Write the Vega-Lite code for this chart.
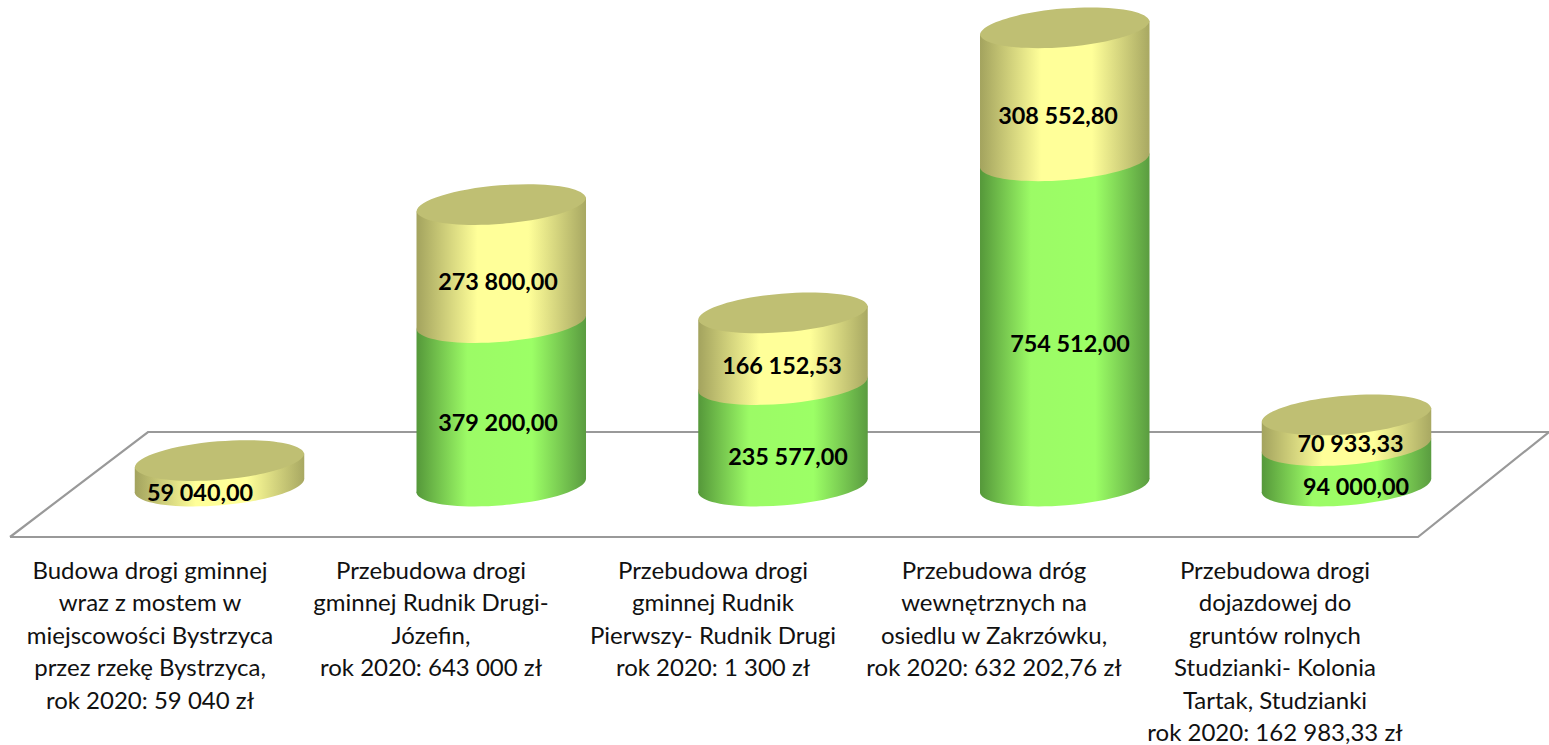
{"$schema":"https://vega.github.io/schema/vega-lite/v6.json","width":1549,"height":745,"padding":0,"autosize":{"type":"none"},"background":"white","config":{"view":{"stroke":null}},
"datasets":{
"rows":[
{"nr":1,"series":"seria 2","value":59040},
{"nr":2,"series":"seria 1","value":379200},{"nr":2,"series":"seria 2","value":273800},
{"nr":3,"series":"seria 1","value":235577},{"nr":3,"series":"seria 2","value":166152.53},
{"nr":4,"series":"seria 1","value":754512},{"nr":4,"series":"seria 2","value":308552.8},
{"nr":5,"series":"seria 1","value":94000},{"nr":5,"series":"seria 2","value":70933.33}],
"valueLabels":[
{"lx":0.9308,"ly":-16241,"label":"59 040,00"},
{"lx":1.9885,"ly":146172,"label":"379 200,00"},
{"lx":1.9885,"ly":473318,"label":"273 800,00"},
{"lx":3.0178,"ly":67285,"label":"235 577,00"},
{"lx":2.9965,"ly":278422,"label":"166 152,53"},
{"lx":4.0186,"ly":329466,"label":"754 512,00"},
{"lx":3.976,"ly":858469,"label":"308 552,80"},
{"lx":5.0337,"ly":-2320,"label":"94 000,00"},
{"lx":5.0142,"ly":97448,"label":"70 933,33"}],
"names":[
{"lx":0.7533,"name":"Budowa drogi gminnej\nwraz z mostem w\nmiejscowości Bystrzyca\nprzez rzekę Bystrzyca,\nrok 2020: 59 040 zł"},
{"lx":1.7507,"name":"Przebudowa drogi\ngminnej Rudnik Drugi-\nJózefin,\nrok 2020: 643 000 zł"},
{"lx":2.7516,"name":"Przebudowa drogi\ngminnej Rudnik\nPierwszy- Rudnik Drugi\nrok 2020: 1 300 zł"},
{"lx":3.7489,"name":"Przebudowa dróg\nwewnętrznych na\nosiedlu w Zakrzówku,\nrok 2020: 632 202,76 zł"},
{"lx":4.7462,"name":"Przebudowa drogi\ndojazdowej do\ngruntów rolnych\nStudzianki- Kolonia\nTartak, Studzianki\nrok 2020: 162 983,33 zł"}],
"floor":[
{"i":1,"fx":0.2564,"fy":-118329},
{"i":2,"fx":0.7462,"fy":125290},
{"i":3,"fx":5.7187,"fy":125290},
{"i":4,"fx":5.2537,"fy":-118329},
{"i":5,"fx":0.2564,"fy":-118329}]
},
"data":{"name":"rows"},
"layer":[
{"data":{"name":"floor"},"mark":{"type":"line","stroke":"#999999","strokeWidth":2.2,"interpolate":"linear"},
"encoding":{"x":{"field":"fx","type":"quantitative","axis":null,"scale":{"domain":[0.2209,5.7187],"nice":false,"zero":false}},"y":{"field":"fy","type":"quantitative","axis":null,"scale":{"domain":[-600928,1127610],"nice":false,"zero":false}},"order":{"field":"i"}}},
{"transform":[{"stack":"value","groupby":["nr"],"sort":[{"field":"series"}],"as":["start","end"]},{"filter":"datum.series==='seria 1'"}],
"mark":{"type":"point","filled":true,"opacity":1,"size":28730,"shape":"M-1 0.082A1.004 0.236 -4.7 0 1 1 -0.082A1.004 0.236 -4.7 0 1 -1 0.082Z","fill":{"x1":0,"x2":1,"y1":0,"y2":0,"gradient":"linear","stops":[{"offset":0,"color":"#55983a"},{"offset":0.3,"color":"#9cfb66"},{"offset":0.68,"color":"#9cff66"},{"offset":1,"color":"#5a9c40"}]}},
"encoding":{"x":{"field":"nr","type":"quantitative"},"y":{"field":"start","type":"quantitative"}}},
{"transform":[{"stack":"value","groupby":["nr"],"sort":[{"field":"series"}],"as":["start","end"]},{"filter":"datum.series==='seria 1'"},{"calculate":"[-1,1]","as":"edge"},{"flatten":["edge"]},{"calculate":"datum.nr+datum.edge*0.3008","as":"ex"},{"calculate":"datum.start+datum.edge*16000","as":"e0"},{"calculate":"datum.end+datum.edge*16000","as":"e1"}],
"mark":{"type":"area","opacity":1,"fill":{"x1":0,"x2":1,"y1":0,"y2":0,"gradient":"linear","stops":[{"offset":0,"color":"#55983a"},{"offset":0.3,"color":"#9cfb66"},{"offset":0.68,"color":"#9cff66"},{"offset":1,"color":"#5a9c40"}]}},
"encoding":{"x":{"field":"ex","type":"quantitative"},"y":{"field":"e0","type":"quantitative"},"y2":{"field":"e1"},"detail":{"field":"nr"}}},
{"transform":[{"stack":"value","groupby":["nr"],"sort":[{"field":"series"}],"as":["start","end"]},{"filter":"datum.series==='seria 2'"}],
"mark":{"type":"point","filled":true,"opacity":1,"size":28730,"shape":"M-1 0.082A1.004 0.236 -4.7 0 1 1 -0.082A1.004 0.236 -4.7 0 1 -1 0.082Z","fill":{"x1":0,"x2":1,"y1":0,"y2":0,"gradient":"linear","stops":[{"offset":0,"color":"#a3a35e"},{"offset":0.36,"color":"#ffff99"},{"offset":0.66,"color":"#ffff99"},{"offset":1,"color":"#a8a862"}]}},
"encoding":{"x":{"field":"nr","type":"quantitative"},"y":{"field":"start","type":"quantitative"}}},
{"transform":[{"stack":"value","groupby":["nr"],"sort":[{"field":"series"}],"as":["start","end"]},{"filter":"datum.series==='seria 2'"},{"calculate":"[-1,1]","as":"edge"},{"flatten":["edge"]},{"calculate":"datum.nr+datum.edge*0.3008","as":"ex"},{"calculate":"datum.start+datum.edge*16000","as":"e0"},{"calculate":"datum.end+datum.edge*16000","as":"e1"}],
"mark":{"type":"area","opacity":1,"fill":{"x1":0,"x2":1,"y1":0,"y2":0,"gradient":"linear","stops":[{"offset":0,"color":"#a3a35e"},{"offset":0.36,"color":"#ffff99"},{"offset":0.66,"color":"#ffff99"},{"offset":1,"color":"#a8a862"}]}},
"encoding":{"x":{"field":"ex","type":"quantitative"},"y":{"field":"e0","type":"quantitative"},"y2":{"field":"e1"},"detail":{"field":"nr"}}},
{"transform":[{"stack":"value","groupby":["nr"],"sort":[{"field":"series"}],"as":["start","end"]},{"filter":"datum.series==='seria 2'"}],
"mark":{"type":"point","filled":true,"opacity":1,"size":28730,"shape":"M-1 0.082A1.004 0.236 -4.7 0 1 1 -0.082A1.004 0.236 -4.7 0 1 -1 0.082Z","fill":"#bfbf73"},
"encoding":{"x":{"field":"nr","type":"quantitative"},"y":{"field":"end","type":"quantitative"}}},
{"data":{"name":"valueLabels"},"mark":{"type":"text","font":"Lato","fontWeight":"bold","fontSize":23.4,"dy":1,"fill":"#000000","align":"center","baseline":"middle"},
"encoding":{"x":{"field":"lx","type":"quantitative"},"y":{"field":"ly","type":"quantitative"},"text":{"field":"label"}}},
{"data":{"name":"names"},"mark":{"type":"text","font":"Lato","fontSize":24,"fill":"#111111","align":"center","baseline":"top","lineBreak":"\n","lineHeight":32.4},
"encoding":{"x":{"field":"lx","type":"quantitative"},"y":{"datum":-171700,"type":"quantitative"},"text":{"field":"name"}}}
]}
